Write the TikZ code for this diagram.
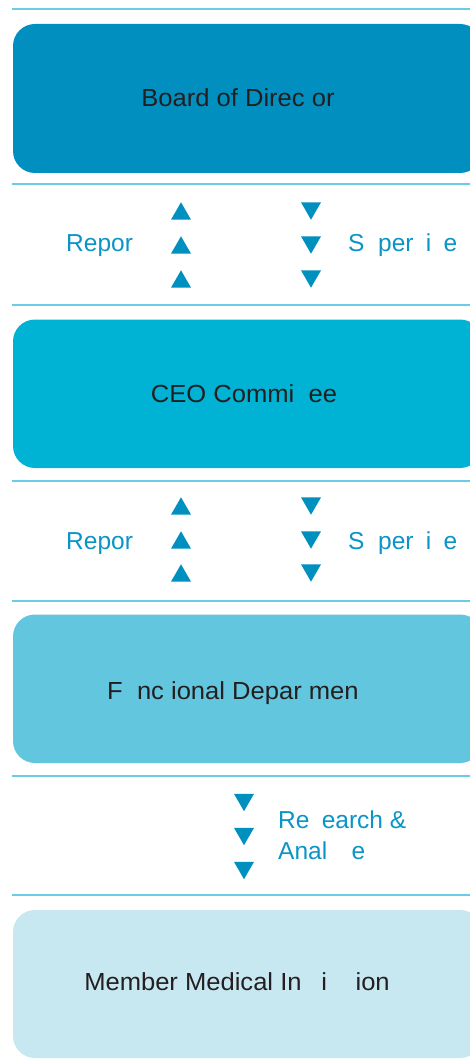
\documentclass[tikz,border=0pt]{standalone}
\usepackage{graphicx}
\usepackage{fontspec}
\setmainfont{Liberation Sans}
\usetikzlibrary{shapes.geometric}
\definecolor{rule}{HTML}{6CCBE8}
\definecolor{tierA}{HTML}{008FBE}
\definecolor{tierB}{HTML}{00B2D4}
\definecolor{tierC}{HTML}{63C6DF}
\definecolor{tierD}{HTML}{C8E8F1}
\definecolor{darktext}{HTML}{231F20}
\definecolor{flowblue}{HTML}{0A95C6}
\definecolor{tipblue}{HTML}{0090C0}
% tier labels are set slightly wide
\newcommand{\widelabel}[1]{\scalebox{1.035}[1]{#1}}
\tikzset{
  sep/.style={draw=rule, line width=1.3pt},
  tier/.style={rounded corners=22pt},
  tiertext/.style={anchor=base, text=darktext, inner sep=0pt,
    font=\fontsize{24.7}{30}\selectfont},
  flowtext/.style={anchor=base west, text=flowblue, inner sep=0pt,
    font=\fontsize{24.5}{30}\selectfont},
  uptip/.style={regular polygon, regular polygon sides=3, fill=tipblue,
    inner sep=0pt, minimum size=23pt, yshift=-2.8pt},
  downtip/.style={regular polygon, regular polygon sides=3, fill=tipblue,
    inner sep=0pt, minimum size=23pt, shape border rotate=180, yshift=2.8pt},
}
\begin{document}
\begin{tikzpicture}[x=1pt,y=-1pt]
\useasboundingbox (0,0) rectangle (470,1064);
\clip (0,0) rectangle (470,1064);
\fill[white] (0,0) rectangle (470,1064);

% separator rules
\foreach \yy in {9,184,305,481,601,776,895}
  \draw[sep] (12,\yy) -- (470,\yy);

% tiers
\fill[tierA, tier] (13,24) rectangle (482,173);
\fill[tierB, tier] (13,319.5) rectangle (482,468);
\fill[tierC, tier] (13,614.5) rectangle (482,763);
\fill[tierD, tier] (13,910) rectangle (482,1058);

\node[tiertext] (board) at (238,107) {\widelabel{Board of Direc\phantom{t}or}};
\node[tiertext] (ceo) at (244,402) {\widelabel{CEO Commi\phantom{tt}ee}};
\node[tiertext] (dept) at (236.5,699) {\widelabel{F\phantom{u}nc\phantom{t}ional Depar\phantom{t}men\phantom{t}}};
\node[tiertext] (member) at (237,990) {\widelabel{Member Medical In\phantom{st}i\phantom{tut}ion}};

% board <-> CEO
\node[uptip] (u1a) at (181,211) {};
\node[uptip] (u1b) at (181,245) {};
\node[uptip] (u1c) at (181,279) {};
\node[downtip] (d1a) at (311,211) {};
\node[downtip] (d1b) at (311,245) {};
\node[downtip] (d1c) at (311,279) {};
\node[flowtext] (rep1) at (66,252) {Repor\phantom{t}};
\node[flowtext] (sup1) at (348,252) {S\phantom{u}per\phantom{v}i\phantom{s}e};

% CEO <-> departments
\node[uptip] (u2a) at (181,506) {};
\node[uptip] (u2b) at (181,540) {};
\node[uptip] (u2c) at (181,573) {};
\node[downtip] (d2a) at (311,506) {};
\node[downtip] (d2b) at (311,540) {};
\node[downtip] (d2c) at (311,573) {};
\node[flowtext] (rep2) at (66,549) {Repor\phantom{t}};
\node[flowtext] (sup2) at (348,549) {S\phantom{u}per\phantom{v}i\phantom{s}e};

% departments -> member institutions
\node[downtip] (d3a) at (244,802.5) {};
\node[downtip] (d3b) at (244,836.5) {};
\node[downtip] (d3c) at (244,870.5) {};
\node[flowtext] (res) at (278,828) {Re\phantom{s}earch \&};
\node[flowtext] (ana) at (278,859) {Anal\phantom{ys}e};
\end{tikzpicture}
\end{document}
